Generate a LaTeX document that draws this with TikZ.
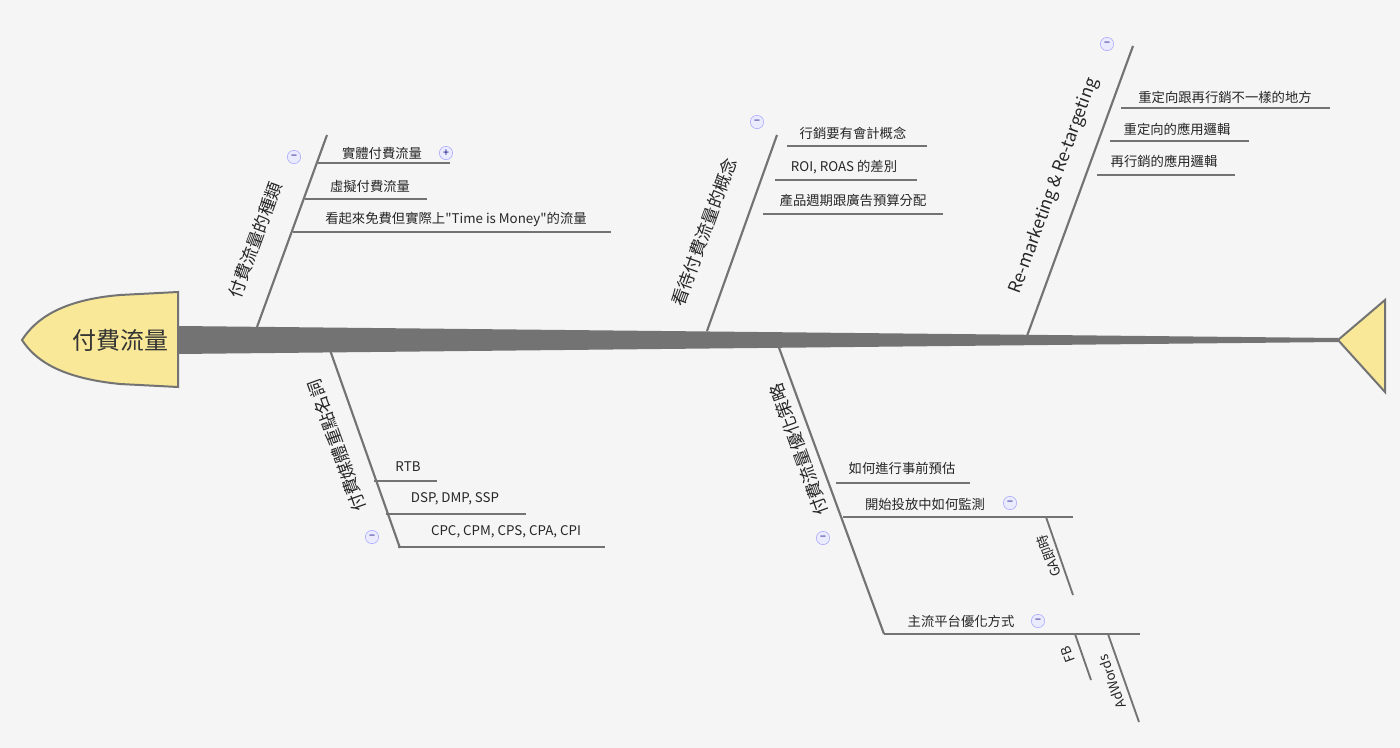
\documentclass[tikz,border=0pt]{standalone}
\usepackage{fontspec}
\setmainfont{Noto Sans CJK TC}
\newfontfamily\plainq{Noto Sans CJK TC}
\definecolor{pale}{RGB}{248,232,152}
\begin{document}
\begin{tikzpicture}[x=0.75pt,y=-0.75pt,
  bone/.style={draw=black!55,line width=1.6pt},
  sub/.style={draw=black!55,line width=1.4pt},
  lab/.style={font=\fontsize{10}{12}\selectfont,text=black!85,inner sep=0pt},
  blab/.style={font=\fontsize{13}{15}\selectfont,text=black!85,inner sep=0pt},
  mini/.style={circle,draw=blue!35,fill=blue!8,minimum size=10pt,inner sep=0pt,font=\fontsize{8}{8}\selectfont,text=blue!50!black}]
\path[fill=black!4] (0,0) rectangle (1400,748);
\useasboundingbox (0,0) rectangle (1400,748);
% spine
\fill[black!55] (178,326) -- (1338,338) -- (1338,342) -- (178,354) -- cycle;
\draw[black!55,line width=1.5pt,fill=pale] (1338,340) -- (1385,300) -- (1385,392) -- cycle;
\draw[black!55,line width=1.5pt,fill=pale] (178,292) -- (178,387) -- (120,384) .. controls (60,378) and (35,360) .. (22,340) .. controls (35,320) and (60,300) .. (120,295) -- cycle;
\node[font=\fontsize{18}{20}\selectfont,text=black!80] (head) at (120,340) {付費流量};
% branch 1
\coordinate (b1a) at (257,327); \coordinate (b1b) at (327,135);
\draw[bone] (b1a) -- (b1b);
\node[blab,rotate=70] (l1) at (255,240) {付費流量的種類};
\coordinate (s11) at (318,163); \coordinate (e11) at (450,163); \draw[sub] (s11)--(e11);
\coordinate (s12) at (305,199); \coordinate (e12) at (427,199); \draw[sub] (s12)--(e12);
\coordinate (s13) at (293,232); \coordinate (e13) at (611,232); \draw[sub] (s13)--(e13);
\node[lab] (t11) at (382,153) {實體付費流量};
\node[lab] (t12) at (370,186) {虛擬付費流量};
\node[lab] (t13) at (456,219) {看起來免費但實際上{\plainq"}Time is Money{\plainq"}的流量};
\node[mini] (m1) at (294,157) {−};
\node[mini] (p1) at (446,153) {+};
% branch 2
\coordinate (b2a) at (707,331); \coordinate (b2b) at (777,135);
\draw[bone] (b2a) -- (b2b);
\node[blab,rotate=70] (l2) at (704,232) {看待付費流量的概念};
\coordinate (s21) at (787,146); \coordinate (e21) at (927,146); \draw[sub] (s21)--(e21);
\coordinate (s22) at (775,180); \coordinate (e22) at (917,180); \draw[sub] (s22)--(e22);
\coordinate (s23) at (763,214); \coordinate (e23) at (943,214); \draw[sub] (s23)--(e23);
\node[lab] (t21) at (853,133) {行銷要有會計概念};
\node[lab] (t22) at (844,167) {ROI, ROAS 的差別};
\node[lab] (t23) at (853,200) {產品週期跟廣告預算分配};
\node[mini] (m2) at (757,122) {−};
% branch 3
\coordinate (b3a) at (1027,336); \coordinate (b3b) at (1133,46);
\draw[bone] (b3a) -- (b3b);
\node[blab,rotate=70] (l3) at (1054,186) {Re-marketing \& Re-targeting};
\coordinate (s31) at (1121,108); \coordinate (e31) at (1330,108); \draw[sub] (s31)--(e31);
\coordinate (s32) at (1110,141); \coordinate (e32) at (1249,141); \draw[sub] (s32)--(e32);
\coordinate (s33) at (1097,175); \coordinate (e33) at (1235,175); \draw[sub] (s33)--(e33);
\node[lab] (t31) at (1225,97) {重定向跟再行銷不一樣的地方};
\node[lab] (t32) at (1177,129) {重定向的應用邏輯};
\node[lab] (t33) at (1164,161) {再行銷的應用邏輯};
\node[mini] (m3) at (1107,44) {−};
% branch 4
\coordinate (b4a) at (330,350); \coordinate (b4b) at (400,548);
\draw[bone] (b4a) -- (b4b);
\node[blab,rotate=110] (l4) at (337,446) {付費媒體重點名詞};
\coordinate (s41) at (374,481); \coordinate (e41) at (437,481); \draw[sub] (s41)--(e41);
\coordinate (s42) at (386,514); \coordinate (e42) at (526,514); \draw[sub] (s42)--(e42);
\coordinate (s43) at (398,547); \coordinate (e43) at (605,547); \draw[sub] (s43)--(e43);
\node[lab] (t41) at (408,467) {RTB};
\node[lab] (t42) at (455,499) {DSP, DMP, SSP};
\node[lab] (t43) at (506,532) {CPC, CPM, CPS, CPA, CPI};
\node[mini] (m4) at (372,537) {−};
% branch 5
\coordinate (b5a) at (778,345); \coordinate (b5b) at (884,634);
\draw[bone] (b5a) -- (b5b);
\node[blab,rotate=110] (l5) at (799,450) {付費流量優化策略};
\coordinate (s51) at (836,483); \coordinate (e51) at (970,483); \draw[sub] (s51)--(e51);
\coordinate (s52) at (843,517); \coordinate (e52) at (1073,517); \draw[sub] (s52)--(e52);
\coordinate (s53) at (884,634); \coordinate (e53) at (1140,634); \draw[sub] (s53)--(e53);
\node[lab] (t51) at (902,468) {如何進行事前預估};
\node[lab] (t52) at (925,504) {開始投放中如何監測};
\node[lab] (t53) at (961,621) {主流平台優化方式};
\node[mini] (m5) at (823,538) {−};
\node[mini] (m52) at (1010,503) {−};
\node[mini] (m53) at (1038,621) {−};
\coordinate (g1) at (1046,517); \coordinate (g2) at (1073,595); \draw[sub] (g1)--(g2);
\node[lab,rotate=110] (tg) at (1049,556) {GA即時};
\coordinate (f1) at (1075,634); \coordinate (f2) at (1091,680); \draw[sub] (f1)--(f2);
\node[lab,rotate=110] (tf) at (1068,655) {FB};
\coordinate (a1) at (1108,634); \coordinate (a2) at (1139,722); \draw[sub] (a1)--(a2);
\node[lab,rotate=110] (ta) at (1112,682) {AdWords};
\end{tikzpicture}
\end{document}
